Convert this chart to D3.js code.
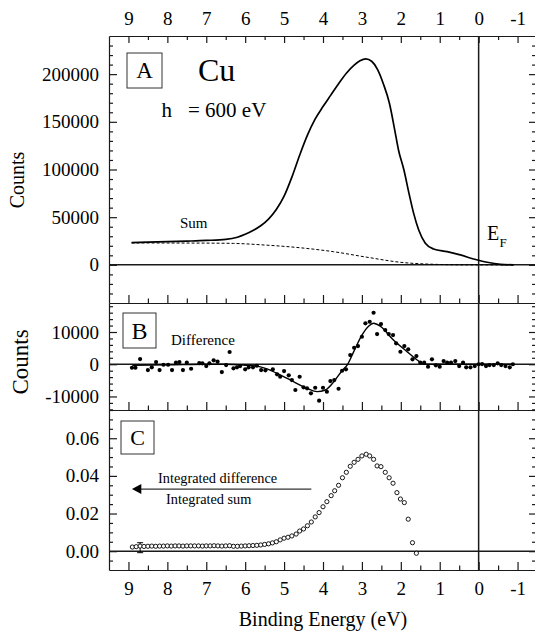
<!DOCTYPE html>
<html>
<head>
<meta charset="utf-8">
<script src="https://cdn.jsdelivr.net/npm/d3@7"></script>
<style>
  body { margin: 0; background: #fff; }
  svg text { font-family: 'Liberation Serif', 'Tinos', 'Times New Roman', 'DejaVu Serif', serif; fill: #000; }
  .axis path, .axis line { stroke: #1a1a1a; stroke-width: 1.2; }
</style>
</head>
<body>
<div id="chart"></div>
<script>
// binding energy ticks
const xMajor = [9, 8, 7, 6, 5, 4, 3, 2, 1, 0, -1];
const xMinor = [9, 8, 7, 6, 5, 4, 3, 2, 1, 0, -1].map((d) => d + 0.5).slice(1);

// panel A: sum spectrum and background
const sumE = [8.92, 8.5, 8.0, 7.5, 7.0, 6.5, 6.2, 6.0, 5.8, 5.6, 5.4, 5.2, 5.0, 4.8, 4.6, 4.4, 4.2, 4.0, 3.8, 3.6, 3.4, 3.2, 3.05, 2.9, 2.75, 2.6, 2.45, 2.29, 2.15, 2.06, 1.92, 1.79, 1.67, 1.54, 1.37, 1.16, 0.81, 0.47, 0.13, -0.22, -0.56, -0.9];
const sumCounts = [23300, 23800, 24300, 24900, 25600, 26700, 29000, 32000, 36000, 41000, 48000, 58000, 72000, 92000, 115000, 136000, 153000, 166000, 178000, 190000, 201000, 209500, 214000, 216000, 213500, 205000, 190000, 169000, 140000, 120500, 99500, 75000, 54000, 36600, 22700, 16700, 13800, 10400, 6200, 2700, 600, 0];
const bgE = [8.92, 8.0, 7.0, 6.3, 5.5, 4.58, 3.73, 2.87, 2.01, 1.16, 0.3, -0.9];
const bgCounts = [23000, 22900, 22800, 22500, 20800, 17900, 13800, 8000, 2700, 600, 0, 0];
const aMajor = [0, 50000, 100000, 150000, 200000];

// panel B: difference points and smooth fit
const diffE = [8.91, 8.82, 8.7, 8.5, 8.4, 8.29, 8.2, 8.1, 7.98, 7.88, 7.78, 7.69, 7.6, 7.5, 7.39, 7.18, 7.1, 7.0, 6.92, 6.81, 6.71, 6.6, 6.49, 6.4, 6.3, 6.21, 6.13, 6.0, 5.91, 5.8, 5.7, 5.59, 5.48, 5.29, 5.18, 5.1, 5.0, 4.88, 4.8, 4.71, 4.6, 4.5, 4.41, 4.31, 4.2, 4.1, 4.0, 3.9, 3.81, 3.71, 3.6, 3.51, 3.41, 3.3, 3.2, 3.1, 3.0, 2.91, 2.8, 2.7, 2.61, 2.51, 2.4, 2.31, 2.2, 2.12, 2.01, 1.91, 1.81, 1.7, 1.6, 1.5, 1.4, 1.3, 1.2, 1.1, 1.0, 0.9, 0.81, 0.71, 0.6, 0.5, 0.4, 0.32, 0.21, 0.1, 0.0, -0.09, -0.19, -0.28, -0.39, -0.49, -0.58, -0.69, -0.8, -0.88];
const diffCounts = [-1090, -1090, 1610, -1800, -960, 680, -1800, -160, -160, -1800, 470, 680, -1800, 470, -1400, 370, 280, -560, 280, 1210, 780, -2420, -250, 3790, -1270, -960, -560, -1580, -960, -960, -470, -1800, -1890, -1580, -3130, -3880, -2110, -3440, -4900, -8000, -3880, -7170, -7480, -9030, -7290, -11320, -7290, -8530, -5210, -4900, -7600, -2020, -1580, 2850, 5120, 5650, 8530, 12690, 13190, 15980, 9370, 12470, 10610, 9370, 9060, 6480, 3880, 5650, 4620, 1520, 2540, 470, 470, -780, 1520, -340, -780, 990, 470, 470, 990, -560, 470, -960, -960, -560, 0, 60, -560, -250, -250, 280, -250, -560, -960, 0];
const fitE = [8.9, 8.0, 7.0, 6.5, 6.0, 5.7, 5.5, 5.1, 4.76, 4.41, 4.15, 3.94, 3.72, 3.51, 3.38, 3.21, 3.0, 2.83, 2.7, 2.53, 2.19, 1.84, 1.58, 1.41, 1.0, 0.0, -0.9];
const fitCounts = [-300, -200, 0, 0, -300, -600, -1200, -3300, -5400, -7500, -8500, -8000, -5400, -2000, -250, 3900, 9000, 11800, 12700, 11800, 7500, 3900, 1300, 0, 0, 0, 0];
const bMajor = [-10000, 0, 10000];

// panel C: integrated difference / integrated sum
const ratioE = [8.9, 8.8, 8.7, 8.6, 8.5, 8.4, 8.3, 8.2, 8.1, 8.0, 7.9, 7.8, 7.7, 7.6, 7.5, 7.4, 7.3, 7.2, 7.1, 7.0, 6.9, 6.8, 6.7, 6.6, 6.5, 6.4, 6.3, 6.2, 6.1, 6.0, 5.9, 5.8, 5.7, 5.6, 5.5, 5.4, 5.3, 5.2, 5.1, 5.0, 4.9, 4.8, 4.69, 4.6, 4.5, 4.4, 4.3, 4.2, 4.1, 4.0, 3.9, 3.79, 3.7, 3.6, 3.5, 3.4, 3.3, 3.2, 3.1, 3.0, 2.89, 2.8, 2.7, 2.61, 2.51, 2.4, 2.3, 2.2, 2.1, 2.01, 1.91, 1.81, 1.7, 1.6];
const ratioVal = [0.0022, 0.0024, 0.0027, 0.0025, 0.0026, 0.0027, 0.0026, 0.0027, 0.0027, 0.0028, 0.0027, 0.0028, 0.0028, 0.0027, 0.0028, 0.0028, 0.0028, 0.0028, 0.0027, 0.0028, 0.0028, 0.0029, 0.0028, 0.0027, 0.0028, 0.0029, 0.0026, 0.0026, 0.0027, 0.0028, 0.0029, 0.003, 0.0031, 0.0033, 0.0036, 0.0039, 0.0044, 0.005, 0.006, 0.0069, 0.0074, 0.0081, 0.0091, 0.0107, 0.0118, 0.0135, 0.0155, 0.0182, 0.0205, 0.0236, 0.0263, 0.0295, 0.0321, 0.035, 0.039, 0.0419, 0.0451, 0.0472, 0.0488, 0.0506, 0.0515, 0.0506, 0.0488, 0.0453, 0.0449, 0.0419, 0.039, 0.0361, 0.0311, 0.0277, 0.0258, 0.017, 0.0045, -0.0011];
const errE = 8.7;
const errLow = -0.0008;
const errHigh = 0.0045;
const cMajor = [0, 0.02, 0.04, 0.06];

const width = 535;
const height = 633;
const serif = "'Liberation Serif', 'Tinos', 'Times New Roman', 'DejaVu Serif', serif";

const svg = d3
  .select("#chart")
  .append("svg")
  .attr("width", width)
  .attr("height", height)
  .style("font-family", serif);

const x = d3.scaleLinear().domain([9.5, -1.5]).range([109, 537]);
const yA = d3.scaleLinear().domain([-40000, 240000]).range([303, 36]);
const yB = d3.scaleLinear().domain([-14200, 19000]).range([410, 303]);
const yC = d3.scaleLinear().domain([-0.01, 0.075]).range([570, 410]);

// x axes: top labelled, panel borders, bottom labelled
const topAxis = svg
  .append("g")
  .attr("class", "axis")
  .attr("transform", "translate(0,36)")
  .call(
    d3.axisTop(x).tickValues(xMajor).tickSize(-7).tickSizeOuter(0).tickPadding(11).tickFormat((d) => String(d))
  );
topAxis.attr("font-size", 19).attr("font-family", null);
svg
  .append("g")
  .attr("class", "axis")
  .attr("transform", "translate(0,36)")
  .call(d3.axisTop(x).tickValues(xMinor).tickSize(-4).tickSizeOuter(0).tickFormat(""))
  .select(".domain")
  .remove();

[303, 410, 570].forEach((yy, i) => {
  const g = svg
    .append("g")
    .attr("class", "axis")
    .attr("transform", `translate(0,${yy})`)
    .call(
      d3
        .axisBottom(x)
        .tickValues(xMajor)
        .tickSize(-8)
        .tickSizeOuter(0)
        .tickPadding(12)
        .tickFormat(i === 2 ? (d) => String(d) : "")
    );
  g.attr("font-size", 19).attr("font-family", null);
  svg
    .append("g")
    .attr("class", "axis")
    .attr("transform", `translate(0,${yy})`)
    .call(d3.axisBottom(x).tickValues(xMinor).tickSize(-4.5).tickSizeOuter(0).tickFormat(""))
    .select(".domain")
    .remove();
});

// y axes per panel
function yAxes(scale, major, minor, fmt) {
  const left = svg
    .append("g")
    .attr("class", "axis")
    .attr("transform", "translate(109,0)")
    .call(d3.axisLeft(scale).tickValues(major).tickSize(-8).tickSizeOuter(0).tickPadding(10).tickFormat(fmt));
  left.attr("font-size", 19).attr("font-family", null);
  svg
    .append("g")
    .attr("class", "axis")
    .attr("transform", "translate(109,0)")
    .call(d3.axisLeft(scale).tickValues(minor).tickSize(-4).tickSizeOuter(0).tickFormat(""))
    .select(".domain")
    .remove();
  svg
    .append("g")
    .attr("class", "axis")
    .attr("transform", "translate(536,0)")
    .call(d3.axisRight(scale).tickValues(major).tickSize(-7).tickSizeOuter(0).tickFormat(""));
  svg
    .append("g")
    .attr("class", "axis")
    .attr("transform", "translate(536,0)")
    .call(d3.axisRight(scale).tickValues(minor).tickSize(-4).tickSizeOuter(0).tickFormat(""))
    .select(".domain")
    .remove();
}

yAxes(yA, aMajor, d3.range(-30000, 240000, 10000).filter((v) => v % 50000 !== 0), (d) => String(d));
yAxes(yB, bMajor, d3.range(-14000, 19000, 2000).filter((v) => v % 10000 !== 0), (d) => String(d));
yAxes(yC, cMajor, d3.range(-0.005, 0.0751, 0.005).filter((v) => Math.abs(v / 0.02 - Math.round(v / 0.02)) > 0.01), d3.format(".2f"));

// zero lines and Fermi level
[yA(0), yB(0), yC(0)].forEach((yy) => {
  svg.append("line").attr("x1", 109).attr("x2", 537).attr("y1", yy).attr("y2", yy)
    .attr("stroke", "#1a1a1a").attr("stroke-width", 1.5);
});
svg.append("line").attr("x1", x(0)).attr("x2", x(0)).attr("y1", 36).attr("y2", 570)
  .attr("stroke", "#1a1a1a").attr("stroke-width", 1.5);

// panel A curves
const lineA = d3.line().x((d) => x(d[0])).y((d) => yA(d[1])).curve(d3.curveMonotoneX);
svg.append("path").datum(d3.zip(bgE, bgCounts)).attr("d", lineA)
  .attr("fill", "none").attr("stroke", "#000").attr("stroke-width", 1).attr("stroke-dasharray", "3,2");
svg.append("path").datum(d3.zip(sumE, sumCounts)).attr("d", lineA)
  .attr("fill", "none").attr("stroke", "#000").attr("stroke-width", 1.7);

// panel B
const lineB = d3.line().x((d) => x(d[0])).y((d) => yB(d[1])).curve(d3.curveMonotoneX);
svg.append("path").datum(d3.zip(fitE, fitCounts)).attr("d", lineB)
  .attr("fill", "none").attr("stroke", "#000").attr("stroke-width", 1.4);
svg.append("g").selectAll("circle").data(d3.zip(diffE, diffCounts)).enter().append("circle")
  .attr("cx", (d) => x(d[0])).attr("cy", (d) => yB(d[1])).attr("r", 2.1).attr("fill", "#000");

// panel C
svg.append("line").attr("x1", x(errE)).attr("x2", x(errE)).attr("y1", yC(errLow)).attr("y2", yC(errHigh))
  .attr("stroke", "#000").attr("stroke-width", 1);
[errLow, errHigh].forEach((v) => {
  svg.append("line").attr("x1", x(errE) - 3).attr("x2", x(errE) + 3).attr("y1", yC(v)).attr("y2", yC(v))
    .attr("stroke", "#000").attr("stroke-width", 1);
});
svg.append("g").selectAll("circle").data(d3.zip(ratioE, ratioVal)).enter().append("circle")
  .attr("cx", (d) => x(d[0])).attr("cy", (d) => yC(d[1])).attr("r", 2.1)
  .attr("fill", "#fff").attr("stroke", "#000").attr("stroke-width", 0.9);

// arrow annotation in panel C
const arrowY = yC(0.033);
svg.append("line").attr("x1", x(8.68)).attr("x2", x(4.3)).attr("y1", arrowY).attr("y2", arrowY)
  .attr("stroke", "#333").attr("stroke-width", 1.2);
svg.append("path")
  .attr("d", `M${x(8.91)},${arrowY}L${x(8.67)},${arrowY - 5}L${x(8.67)},${arrowY + 5}Z`)
  .attr("fill", "#000");

// labels
function label(txt, px, py, size, anchor) {
  return svg.append("text").attr("x", px).attr("y", py).attr("font-size", size)
    .attr("text-anchor", anchor || "start").text(txt);
}
function box(x0, y0, w, h, letter, size) {
  svg.append("rect").attr("x", x0).attr("y", y0).attr("width", w).attr("height", h)
    .attr("fill", "none").attr("stroke", "#333").attr("stroke-width", 1);
  label(letter, x0 + w / 2, y0 + h / 2 + size * 0.34, size, "middle");
}
box(127, 53, 35, 35, "A", 23);
box(123, 313, 33, 35, "B", 24);
box(121, 421, 33, 33, "C", 22);

label("Cu", 198, 81, 32);
label("h", 161.5, 117, 21);
label("= 600 eV", 188, 117, 21);
label("Sum", 180, 228, 15);
label("E", 487, 240, 20);
label("F", 499.5, 247, 13);
label("Difference", 171, 345, 15);
label("Integrated difference", 158, 483, 14.3);
label("Integrated sum", 166, 504, 14.3);

svg.append("text").attr("transform", "translate(24,180) rotate(-90)")
  .attr("font-size", 20).attr("text-anchor", "middle").text("Counts");
svg.append("text").attr("transform", "translate(28,362) rotate(-90)")
  .attr("font-size", 23).attr("text-anchor", "middle").text("Counts");
label("Binding Energy (eV)", 323, 626, 20, "middle");
</script>
</body>
</html>
